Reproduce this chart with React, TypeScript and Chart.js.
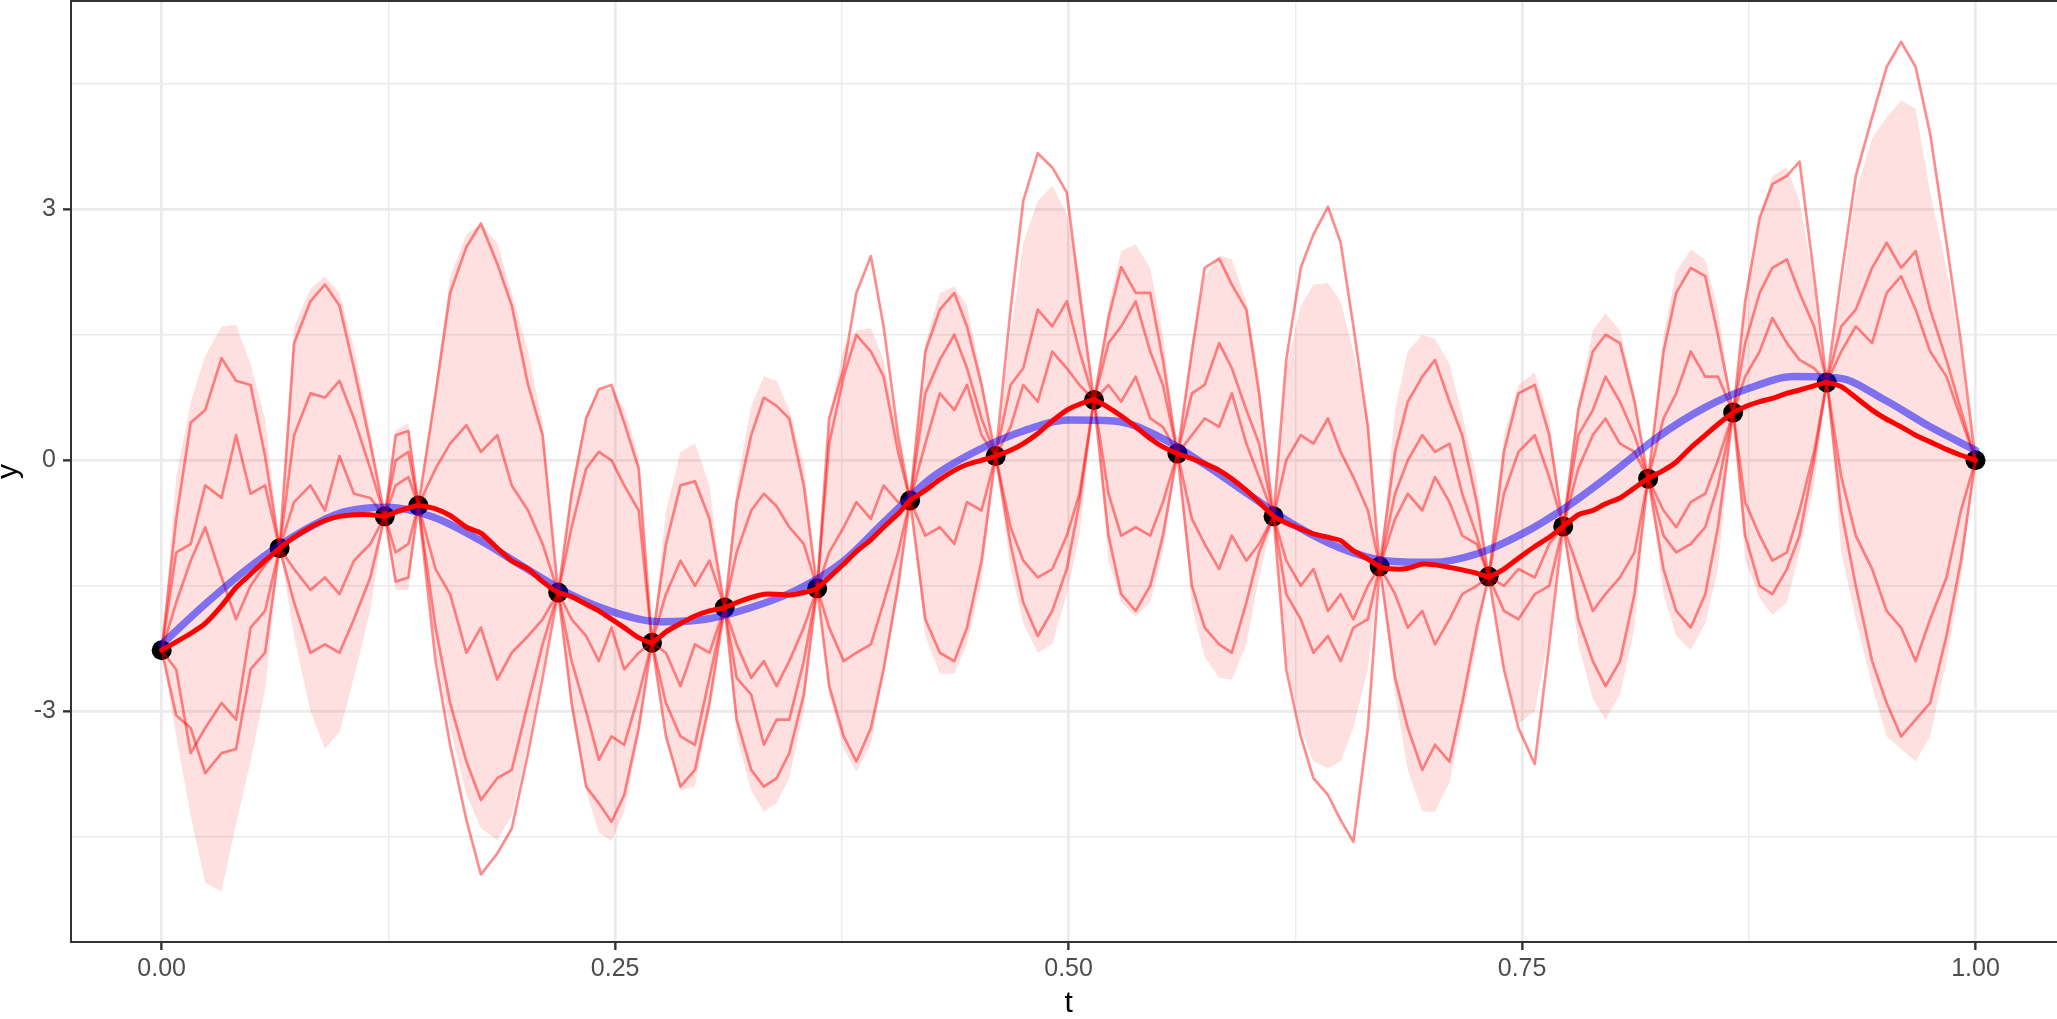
import { useEffect, useRef } from 'react';
import { Chart, registerables } from 'chart.js';

Chart.register(...registerables);

// ---------------- data ----------------
// observed points
const obsT = [0, 0.065, 0.123, 0.1415, 0.2186, 0.2703, 0.3104, 0.3614, 0.4126, 0.4598, 0.514, 0.56, 0.613, 0.6715, 0.7316, 0.7727, 0.8195, 0.8664, 0.918, 1.0];
const obsY = [-2.27, -1.05, -0.67, -0.54, -1.58, -2.18, -1.76, -1.53, -0.48, 0.05, 0.72, 0.08, -0.67, -1.27, -1.39, -0.79, -0.22, 0.57, 0.93, 0.0];

// grid on which the posterior band, mean and sample paths are read
const gridT = [
  0,
  0.008, 0.016, 0.024, 0.033, 0.041, 0.049, 0.057,
  0.065,
  0.073, 0.082, 0.09, 0.098, 0.106, 0.115,
  0.123,
  0.129, 0.136,
  0.1415,
  0.151, 0.159, 0.168, 0.176, 0.185, 0.193, 0.202, 0.21,
  0.2186,
  0.226, 0.234, 0.241, 0.248, 0.255, 0.263,
  0.2703,
  0.278, 0.286, 0.294, 0.302,
  0.3104,
  0.317, 0.325, 0.332, 0.339, 0.346, 0.354,
  0.3614,
  0.368, 0.376, 0.383, 0.391, 0.398, 0.406,
  0.4126,
  0.421, 0.429, 0.437, 0.444, 0.452,
  0.4598,
  0.468, 0.475, 0.483, 0.491, 0.499, 0.506,
  0.514,
  0.522, 0.529, 0.537, 0.545, 0.552,
  0.56,
  0.568, 0.575, 0.583, 0.59, 0.598, 0.605,
  0.613,
  0.62, 0.628, 0.635, 0.643, 0.65, 0.657, 0.665,
  0.6715,
  0.68, 0.687, 0.695, 0.702, 0.71, 0.717, 0.725,
  0.7316,
  0.74, 0.748, 0.757, 0.765,
  0.7727,
  0.781, 0.789, 0.796, 0.804, 0.812,
  0.8195,
  0.828, 0.835, 0.843, 0.851, 0.858,
  0.8664,
  0.873, 0.881, 0.888, 0.896, 0.903, 0.911,
  0.918,
  0.926, 0.934, 0.943, 0.951, 0.959, 0.967, 0.975, 0.984, 0.992,
  1.0,
];

const meanY = [
  -2.27,
  -2.17, -2.07, -1.95, -1.74, -1.52, -1.36, -1.2,
  -1.05,
  -0.92, -0.8, -0.72, -0.67, -0.65, -0.65,
  -0.67,
  -0.62, -0.57,
  -0.54,
  -0.58, -0.66, -0.8, -0.87, -1.05, -1.2, -1.3, -1.45,
  -1.58,
  -1.63, -1.72, -1.8, -1.9, -2.0, -2.12,
  -2.18,
  -2.05, -1.95, -1.86, -1.8,
  -1.76,
  -1.7, -1.64, -1.6, -1.6, -1.61, -1.58,
  -1.53,
  -1.4, -1.24, -1.09, -0.95, -0.8, -0.64,
  -0.48,
  -0.36, -0.23, -0.12, -0.05, 0.0,
  0.05,
  0.12, 0.2, 0.32, 0.47, 0.6, 0.67,
  0.72,
  0.63, 0.53, 0.4, 0.26, 0.16,
  0.08,
  0.02, -0.04, -0.12, -0.22, -0.36, -0.5,
  -0.67,
  -0.75, -0.82, -0.88, -0.92, -0.96, -1.08, -1.18,
  -1.27,
  -1.3, -1.29, -1.24, -1.25, -1.28, -1.31, -1.35,
  -1.39,
  -1.3, -1.17, -1.03, -0.92,
  -0.79,
  -0.65, -0.6, -0.52, -0.45, -0.33,
  -0.22,
  -0.12, -0.02, 0.15, 0.3, 0.43,
  0.57,
  0.64, 0.7, 0.74, 0.8, 0.84, 0.89,
  0.93,
  0.88, 0.75, 0.6, 0.49, 0.4, 0.3, 0.22, 0.13, 0.06,
  0.0,
];

const bandHi = [
  -2.27,
  -0.2, 0.7, 1.25, 1.6, 1.62, 1.15, 0.5,
  -1.05,
  1.6, 2.05, 2.2, 2.0, 1.35, 0.35,
  -0.67,
  0.35, 0.45,
  -0.54,
  0.9, 2.2, 2.7, 2.82, 2.6, 2.0, 1.3, 0.45,
  -1.58,
  -0.3, 0.55, 0.85, 0.85, 0.62, 0.05,
  -2.18,
  -0.6, 0.1, 0.2, -0.3,
  -1.76,
  -0.3, 0.65, 1.0, 0.95, 0.6, -0.05,
  -1.53,
  0.5, 1.35, 1.55, 1.58, 1.2, 0.3,
  -0.48,
  1.4, 2.0, 2.08, 1.85, 1.0,
  0.05,
  1.5, 2.6, 3.1, 3.28, 2.95, 2.2,
  0.72,
  1.85, 2.5, 2.58, 2.3, 1.5,
  0.08,
  1.4, 2.2, 2.45, 2.4, 1.9, 1.0,
  -0.67,
  1.1, 1.85, 2.1, 2.12, 1.9, 1.3, 0.5,
  -1.27,
  0.6, 1.3, 1.5, 1.45, 1.15, 0.55, -0.2,
  -1.39,
  0.3, 0.9, 1.05, 0.5,
  -0.79,
  0.7, 1.55, 1.76, 1.55, 0.8,
  -0.22,
  1.5, 2.25, 2.52, 2.4, 1.8,
  0.57,
  1.9, 2.9, 3.4, 3.5, 3.1, 2.1,
  0.93,
  2.0, 3.2, 3.85, 4.1, 4.3, 4.2, 3.2, 2.3, 1.3,
  0.0,
];

const bandLo = [
  -2.27,
  -3.3, -4.25, -5.05, -5.15, -4.35, -3.6, -2.75,
  -1.05,
  -2.1, -3.0, -3.45, -3.25, -2.6, -1.8,
  -0.67,
  -1.55, -1.55,
  -0.54,
  -2.3, -3.2, -4.0, -4.4, -4.54, -4.25, -3.4, -2.5,
  -1.58,
  -3.0, -3.95, -4.45, -4.55, -4.2, -3.3,
  -2.18,
  -3.3, -3.95, -3.9, -3.0,
  -1.76,
  -3.3, -3.95, -4.2, -4.1, -3.8, -3.0,
  -1.53,
  -2.8, -3.45, -3.72, -3.4, -2.55, -1.6,
  -0.48,
  -2.1, -2.55, -2.55, -2.2, -1.45,
  0.05,
  -1.3, -1.95, -2.3, -2.2, -1.6, -0.9,
  0.72,
  -1.2, -1.7, -1.87, -1.7, -1.1,
  0.08,
  -1.75, -2.35, -2.6, -2.62, -2.2, -1.4,
  -0.67,
  -2.4, -3.2, -3.6, -3.68, -3.6, -3.2, -2.5,
  -1.27,
  -2.8, -3.7, -4.2, -4.2, -3.85, -3.1, -2.2,
  -1.39,
  -2.5, -3.15, -3.0, -2.1,
  -0.79,
  -2.2, -2.85, -3.1, -2.8, -2.0,
  -0.22,
  -1.6, -2.1, -2.27, -1.95, -1.3,
  0.57,
  -1.2, -1.65, -1.85, -1.7, -1.1, -0.3,
  0.93,
  -1.1, -1.9, -2.7, -3.3, -3.45, -3.6, -3.3, -2.4, -1.4,
  0.0,
];

const pathA = [
  -2.27,
  -0.7, 0.45, 0.6, 1.22, 0.95, 0.9, 0.05,
  -1.05,
  -1.3, -1.55, -1.4, -1.6, -1.2, -1.0,
  -0.67,
  0.0, 0.1,
  -0.54,
  0.8, 2.0, 2.55, 2.83, 2.35, 1.85, 0.9, 0.3,
  -1.58,
  -2.9, -3.9, -4.1, -4.32, -4.0, -3.2,
  -2.18,
  -1.0, -0.3, -0.25, -0.7,
  -1.76,
  -2.2, -2.6, -2.4, -2.7, -2.4, -2.0,
  -1.53,
  0.2, 1.0, 1.5, 1.3, 1.0, 0.1,
  -0.48,
  0.8, 1.2, 1.5, 1.1, 0.5,
  0.05,
  -0.8, -1.2, -1.4, -1.3, -0.9, -0.4,
  0.72,
  1.4, 1.6, 1.9, 1.3, 0.9,
  0.08,
  1.3, 2.3, 2.41, 2.1, 1.8, 0.8,
  -0.67,
  -2.5, -3.3, -3.8, -4.0, -4.3, -4.56, -3.2,
  -1.27,
  0.1, 0.7, 1.0, 1.2, 0.7, 0.3, -0.5,
  -1.39,
  -2.5, -3.2, -3.63, -2.2,
  -0.79,
  0.6, 1.3, 1.5, 1.4, 0.7,
  -0.22,
  -0.6, -0.8, -0.5, -0.4, 0.0,
  0.57,
  1.4, 2.0, 2.3, 2.4, 2.0, 1.6,
  0.93,
  2.2, 3.4, 4.1, 4.7, 5.0, 4.7, 3.9, 2.6, 1.4,
  0.0,
];

const pathB = [
  -2.27,
  -1.1, -1.0, -0.3, -0.45, 0.3, -0.4, -0.3,
  -1.05,
  1.4, 1.9, 2.1, 1.85, 1.1, 0.2,
  -0.67,
  -1.1, -1.0,
  -0.54,
  -2.4, -3.4, -4.3, -4.95, -4.7, -4.4, -3.5, -2.6,
  -1.58,
  -0.4, 0.5, 0.85, 0.9, 0.45, -0.1,
  -2.18,
  -2.9, -3.3, -3.4, -2.6,
  -1.76,
  -0.5, 0.3, 0.75, 0.65, 0.5, -0.3,
  -1.53,
  -2.0, -2.4, -2.3, -2.2, -1.7, -1.1,
  -0.48,
  -1.9, -2.3, -2.4, -2.0, -1.2,
  0.05,
  1.8, 3.1, 3.67, 3.5, 3.2, 2.0,
  0.72,
  1.7, 2.31, 2.0, 2.0, 1.2,
  0.08,
  -0.7, -1.0, -1.3, -0.9, -1.2, -1.0,
  -0.67,
  1.2, 2.3, 2.7, 3.03, 2.6, 1.6, 0.4,
  -1.27,
  -2.6, -3.2, -3.7, -3.4, -3.6, -2.9, -2.0,
  -1.39,
  -0.4, 0.1, 0.3, -0.2,
  -0.79,
  -1.9, -2.4, -2.7, -2.4, -1.6,
  -0.22,
  1.3, 2.0, 2.3, 2.2, 1.5,
  0.57,
  1.9, 2.9, 3.3, 3.4, 3.57, 2.2,
  0.93,
  -0.2, -0.9, -1.3, -1.8, -2.0, -2.4, -1.9, -1.4, -0.6,
  0.0,
];

const pathC = [
  -2.27,
  -3.05, -3.2, -3.74, -3.5, -3.45, -2.5, -2.3,
  -1.05,
  0.3, 0.8, 0.75, 0.95, 0.5, -0.1,
  -0.67,
  -0.3, -0.2,
  -0.54,
  -2.0, -2.9, -3.6, -4.06, -3.8, -3.7, -2.9, -2.2,
  -1.58,
  -2.4, -3.0, -3.58, -3.3, -3.4, -2.8,
  -2.18,
  -2.3, -2.7, -2.2, -2.3,
  -1.76,
  -3.1, -3.7, -3.9, -3.8, -3.5, -2.8,
  -1.53,
  0.5, 1.1, 2.0, 2.44, 1.6, 0.3,
  -0.48,
  0.2, 0.8, 0.6, 0.9, 0.3,
  0.05,
  0.9, 1.1, 1.8, 1.6, 1.9, 1.3,
  0.72,
  -0.4, -0.9, -0.8, -0.9, -0.5,
  0.08,
  0.8, 0.9, 1.4, 1.1, 0.6, 0.2,
  -0.67,
  -1.6, -1.9, -2.3, -2.1, -2.4, -2.0, -1.9,
  -1.27,
  -0.7, -0.4, -0.6, -0.2, -0.5, -0.9, -1.0,
  -1.39,
  -1.8, -1.9, -1.6, -1.5,
  -0.79,
  -0.1, 0.3, 0.5, 0.2, 0.1,
  -0.22,
  -1.3, -1.8, -2.0, -1.6, -0.8,
  0.57,
  -0.5, -0.9, -1.2, -1.1, -0.6, 0.1,
  0.93,
  1.3, 1.6, 1.4, 2.0, 2.2, 1.8, 1.3, 1.0, 0.5,
  0.0,
];

const pathD = [
  -2.27,
  -2.5, -3.5, -3.2, -2.9, -3.1, -2.0, -1.8,
  -1.05,
  -1.7, -2.3, -2.2, -2.3, -1.9, -1.4,
  -0.67,
  -1.45, -1.4,
  -0.54,
  -0.1, 0.2, 0.42, 0.1, 0.3, -0.3, -0.6, -1.0,
  -1.58,
  -0.8, -0.1, 0.1, 0.0, -0.3, -0.6,
  -2.18,
  -1.6, -1.2, -1.5, -1.2,
  -1.76,
  -1.1, -0.6, -0.4, -0.55, -0.8, -1.0,
  -1.53,
  -2.7, -3.3, -3.6, -3.2, -2.5, -1.5,
  -0.48,
  -0.9, -0.8, -1.0, -0.5, -0.6,
  0.05,
  -1.0, -1.7, -2.1, -1.8, -1.3, -0.5,
  0.72,
  0.9, 0.7, 1.0, 0.5, 0.4,
  0.08,
  -1.5, -2.0, -2.2, -2.3, -1.7, -1.1,
  -0.67,
  0.0, 0.3, 0.2, 0.5, 0.1, -0.2, -0.6,
  -1.27,
  -0.4, 0.0, 0.3, 0.1, 0.2, -0.4, -0.9,
  -1.39,
  0.1, 0.8, 0.9, 0.3,
  -0.79,
  -1.3, -1.8, -1.6, -1.4, -1.1,
  -0.22,
  0.5, 0.8, 1.3, 1.0, 1.0,
  0.57,
  1.0, 1.3, 1.7, 1.4, 1.2, 1.1,
  0.93,
  -0.6, -1.5, -2.4, -2.9, -3.3, -3.1, -2.9, -2.1, -1.2,
  0.0,
];

const pathE = [
  -2.27,
  -1.7, -1.2, -0.8, -1.4, -1.9, -1.5, -1.25,
  -1.05,
  -0.5, -0.3, -0.6, 0.05, -0.4, -0.45,
  -0.67,
  0.3, 0.35,
  -0.54,
  -1.3, -1.6, -2.3, -2.0, -2.62, -2.3, -2.1, -1.9,
  -1.58,
  -1.9, -2.1, -2.4, -2.0, -2.5, -2.3,
  -2.18,
  -3.3, -3.9, -3.7, -2.9,
  -1.76,
  -2.6, -2.8, -3.4, -3.1, -3.1, -2.4,
  -1.53,
  -1.1, -0.8, -0.5, -0.7, -0.3, -0.5,
  -0.48,
  1.3, 1.8, 2.0, 1.6, 0.9,
  0.05,
  0.4, 0.9, 0.7, 1.3, 1.1, 0.9,
  0.72,
  -0.9, -1.6, -1.8, -1.5, -0.9,
  0.08,
  0.3, 0.5, 0.4, 0.8, 0.2, -0.2,
  -0.67,
  -1.2, -1.5, -1.3, -1.8, -1.6, -1.9, -1.5,
  -1.27,
  -1.6, -2.0, -1.8, -2.2, -1.9, -1.6, -1.5,
  -1.39,
  -1.5, -1.3, -1.4, -1.0,
  -0.79,
  0.3, 0.6, 1.0, 0.7, 0.3,
  -0.22,
  -0.9, -1.1, -1.0, -0.8, -0.3,
  0.57,
  -0.9, -1.5, -1.6, -1.3, -0.9, 0.0,
  0.93,
  1.6, 1.8, 2.3, 2.6, 2.3, 2.5, 1.8, 1.2, 0.6,
  0.0,
];

// true (smooth) function
const trueT = [0, 0.025, 0.05, 0.075, 0.1, 0.125, 0.15, 0.175, 0.2, 0.225, 0.25, 0.275, 0.3, 0.325, 0.35, 0.375, 0.4, 0.425, 0.45, 0.475, 0.5, 0.525, 0.55, 0.575, 0.6, 0.625, 0.65, 0.675, 0.7, 0.725, 0.75, 0.775, 0.8, 0.825, 0.85, 0.875, 0.9, 0.925, 0.95, 0.975, 1.0];
const trueY = [-2.2, -1.7, -1.25, -0.88, -0.62, -0.56, -0.68, -0.95, -1.28, -1.6, -1.82, -1.93, -1.9, -1.76, -1.55, -1.22, -0.7, -0.2, 0.12, 0.35, 0.48, 0.47, 0.28, -0.05, -0.42, -0.78, -1.05, -1.2, -1.22, -1.12, -0.88, -0.55, -0.15, 0.28, 0.62, 0.86, 1.0, 0.98, 0.72, 0.4, 0.12];

const xMajorTicks = [0, 0.25, 0.5, 0.75, 1];
const xMinorTicks = [0.125, 0.375, 0.625, 0.875];
const yMajorTicks = [-3, 0, 3];
const yMinorTicks = [-4.5, -1.5, 1.5, 4.5];

// ---------------- styling ----------------
const FONT = '"Liberation Sans", Arial, Helvetica, sans-serif';
const CANVAS_W = 2070;
const CANVAS_H = 1019;

const isIn = (v: number, list: number[]) => list.some((m) => Math.abs(m - v) < 1e-6);

const xy = (ts: number[], ys: number[]) => ts.map((t, i) => ({ x: t, y: ys[i] }));

const panelBorder = {
  id: 'panelBorder',
  afterDatasetsDraw(chart: any) {
    const { ctx, chartArea } = chart;
    const { left, top, right, bottom } = chartArea;
    ctx.save();
    ctx.strokeStyle = '#333333';
    ctx.lineWidth = 2;
    ctx.strokeRect(left, top, right - left, bottom - top);
    ctx.restore();
  },
};

const zeroPadding = (scale: any) => {
  scale.paddingTop = 0;
  scale.paddingBottom = 0;
  scale.paddingLeft = 0;
  scale.paddingRight = 0;
};

export default function App() {
  const ref = useRef<HTMLCanvasElement | null>(null);

  useEffect(() => {
    if (!ref.current) return;
    const pathStyle = {
      type: 'line',
      borderColor: 'rgba(255,0,0,0.45)',
      borderWidth: 2.7,
      pointRadius: 0,
      pointHoverRadius: 0,
      tension: 0,
      fill: false,
      borderJoinStyle: 'round',
      order: 2,
    };
    const gridColor = (list: number[], minor: number[]) => (ctx: any) => {
      const v = ctx.tick ? ctx.tick.value : 0;
      if (isIn(v, list) || isIn(v, minor)) return '#EBEBEB';
      return 'rgba(0,0,0,0)';
    };
    const chart = new Chart(ref.current, {
      type: 'line',
      data: {
        datasets: [
          {
            label: 'bandLo',
            data: xy(gridT, bandLo),
            borderWidth: 0,
            borderColor: 'rgba(0,0,0,0)',
            pointRadius: 0,
            fill: false,
            tension: 0,
            order: 6,
          },
          {
            label: 'bandHi',
            data: xy(gridT, bandHi),
            borderWidth: 0,
            borderColor: 'rgba(0,0,0,0)',
            backgroundColor: 'rgba(255,0,0,0.12)',
            pointRadius: 0,
            fill: '-1',
            tension: 0,
            order: 5,
          },
          {
            label: 'obs',
            data: xy(obsT, obsY),
            showLine: false,
            pointRadius: 10,
            pointHoverRadius: 10,
            pointBackgroundColor: '#000000',
            pointBorderWidth: 0,
            borderColor: '#000000',
            order: 3,
          },
          { ...pathStyle, label: 'pathA', data: xy(gridT, pathA) } as any,
          { ...pathStyle, label: 'pathB', data: xy(gridT, pathB) } as any,
          { ...pathStyle, label: 'pathC', data: xy(gridT, pathC) } as any,
          { ...pathStyle, label: 'pathD', data: xy(gridT, pathD) } as any,
          { ...pathStyle, label: 'pathE', data: xy(gridT, pathE) } as any,
          {
            label: 'truth',
            data: xy(trueT, trueY),
            borderColor: 'rgba(0,0,255,0.5)',
            borderWidth: 7.5,
            pointRadius: 0,
            cubicInterpolationMode: 'monotone',
            borderCapStyle: 'round',
            fill: false,
            order: 1,
          },
          {
            label: 'mean',
            data: xy(gridT, meanY),
            borderColor: '#FF0000',
            borderWidth: 5,
            pointRadius: 0,
            tension: 0.2,
            borderJoinStyle: 'round',
            borderCapStyle: 'round',
            fill: false,
            order: 0,
          },
        ] as any,
      },
      options: {
        responsive: false,
        animation: false,
        devicePixelRatio: 1,
        events: [],
        layout: { autoPadding: false, padding: { left: 0, top: 1, right: CANVAS_W - 2066.2, bottom: 0 } },
        plugins: {
          legend: { display: false },
          tooltip: { enabled: false },
        },
        scales: {
          x: {
            type: 'linear',
            min: -0.05,
            max: 1.05,
            afterBuildTicks: (scale: any) => {
              scale.ticks = [...xMajorTicks, ...xMinorTicks].sort((a, b) => a - b).map((v) => ({ value: v }));
            },
            afterFit: (scale: any) => {
              scale.height = 77;
              zeroPadding(scale);
            },
            border: { display: false },
            grid: {
              color: gridColor(xMajorTicks, xMinorTicks),
              lineWidth: (ctx: any) => (ctx.tick && isIn(ctx.tick.value, xMajorTicks) ? 2.7 : 1.4),
              tickLength: 8,
              tickColor: (ctx: any) => (ctx.tick && isIn(ctx.tick.value, xMajorTicks) ? '#333333' : 'rgba(0,0,0,0)'),
              tickWidth: 2.4,
            },
            ticks: {
              autoSkip: false,
              maxRotation: 0,
              minRotation: 0,
              padding: 4,
              color: '#4D4D4D',
              font: { family: FONT, size: 25 },
              callback: (v: any) => (isIn(Number(v), xMajorTicks) ? Number(v).toFixed(2) : ''),
            },
            title: {
              display: true,
              text: 't',
              color: '#000000',
              font: { family: FONT, size: 30, lineHeight: 1.0 },
              padding: { top: 0, bottom: 0 },
            },
          },
          y: {
            type: 'linear',
            min: -5.757,
            max: 5.489,
            afterBuildTicks: (scale: any) => {
              scale.ticks = [...yMajorTicks, ...yMinorTicks].sort((a, b) => a - b).map((v) => ({ value: v }));
            },
            afterFit: (scale: any) => {
              scale.width = 71;
              zeroPadding(scale);
            },
            border: { display: false },
            grid: {
              color: gridColor(yMajorTicks, yMinorTicks),
              lineWidth: (ctx: any) => (ctx.tick && isIn(ctx.tick.value, yMajorTicks) ? 2.7 : 1.4),
              tickLength: 8,
              tickColor: (ctx: any) => (ctx.tick && isIn(ctx.tick.value, yMajorTicks) ? '#333333' : 'rgba(0,0,0,0)'),
              tickWidth: 2.4,
            },
            ticks: {
              autoSkip: false,
              padding: 7,
              color: '#4D4D4D',
              font: { family: FONT, size: 25 },
              callback: (v: any) => (isIn(Number(v), yMajorTicks) ? String(Number(v)) : ''),
            },
            title: {
              display: true,
              text: 'y',
              color: '#000000',
              font: { family: FONT, size: 30, lineHeight: 0.6 },
              padding: { top: 0, bottom: 0 },
            },
          },
        },
      } as any,
      plugins: [panelBorder],
    });
    return () => chart.destroy();
  }, []);

  return (
    <div
      style={{
        position: 'fixed',
        left: 0,
        top: 0,
        width: 2057,
        height: 1019,
        overflow: 'hidden',
        background: '#ffffff',
      }}
    >
      <canvas ref={ref} width={CANVAS_W} height={CANVAS_H} style={{ display: 'block' }} />
    </div>
  );
}
